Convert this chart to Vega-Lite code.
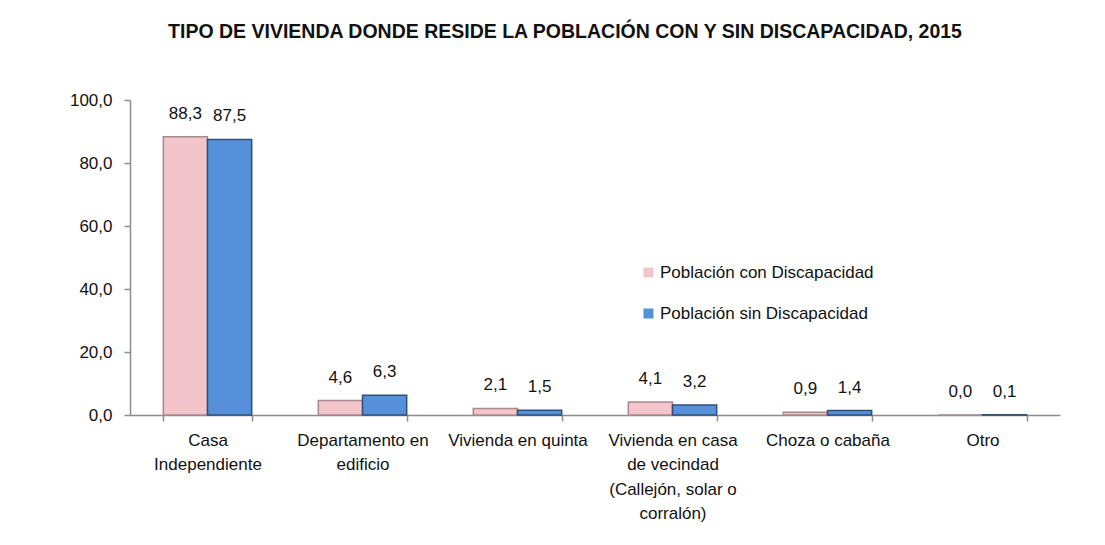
{
  "$schema": "https://vega.github.io/schema/vega-lite/v6.json",
  "width": 930,
  "height": 315,
  "autosize": {"type": "none"},
  "padding": {"left": 130, "top": 100, "right": 45, "bottom": 130},
  "title": {
    "text": "TIPO DE VIVIENDA DONDE RESIDE LA POBLACIÓN CON Y SIN DISCAPACIDAD, 2015",
    "font": "Liberation Sans, Arial, sans-serif",
    "fontSize": 19.5,
    "fontWeight": "bold",
    "color": "#111111",
    "anchor": "middle",
    "dx": -30,
    "offset": 49
  },
  "data": {
    "values": [
      {"tipo": "Casa Independiente", "grupo": "Población con Discapacidad", "valor": 88.3},
      {"tipo": "Casa Independiente", "grupo": "Población sin Discapacidad", "valor": 87.5},
      {"tipo": "Departamento en edificio", "grupo": "Población con Discapacidad", "valor": 4.6},
      {"tipo": "Departamento en edificio", "grupo": "Población sin Discapacidad", "valor": 6.3},
      {"tipo": "Vivienda en quinta", "grupo": "Población con Discapacidad", "valor": 2.1},
      {"tipo": "Vivienda en quinta", "grupo": "Población sin Discapacidad", "valor": 1.5},
      {"tipo": "Vivienda en casa de vecindad (Callejón, solar o corralón)", "grupo": "Población con Discapacidad", "valor": 4.1},
      {"tipo": "Vivienda en casa de vecindad (Callejón, solar o corralón)", "grupo": "Población sin Discapacidad", "valor": 3.2},
      {"tipo": "Choza o cabaña", "grupo": "Población con Discapacidad", "valor": 0.9},
      {"tipo": "Choza o cabaña", "grupo": "Población sin Discapacidad", "valor": 1.4},
      {"tipo": "Otro", "grupo": "Población con Discapacidad", "valor": 0.0},
      {"tipo": "Otro", "grupo": "Población sin Discapacidad", "valor": 0.1}
    ]
  },
  "encoding": {
    "x": {
      "field": "tipo",
      "type": "nominal",
      "sort": null,
      "scale": {"paddingInner": 0.43, "paddingOuter": 0.215},
      "axis": {
        "title": null,
        "labelAngle": 0,
        "tickBand": "extent",
        "domainColor": "#8c8c8c",
        "domainWidth": 1.5,
        "tickColor": "#8c8c8c",
        "tickWidth": 1.5,
        "tickSize": 6,
        "labelFont": "Liberation Sans, Arial, sans-serif",
        "labelFontSize": 17,
        "labelColor": "#111111",
        "labelPadding": 11,
        "labelBaseline": "top",
        "labelLineHeight": 24.5,
        "labelLimit": 200,
        "labelExpr": "datum.value == 'Casa Independiente' ? ['Casa', 'Independiente'] : datum.value == 'Departamento en edificio' ? ['Departamento en', 'edificio'] : datum.value == 'Vivienda en casa de vecindad (Callejón, solar o corralón)' ? ['Vivienda en casa', 'de vecindad', '(Callejón, solar o', 'corralón)'] : datum.value"
      }
    },
    "xOffset": {"field": "grupo", "type": "nominal", "sort": null, "scale": {"paddingInner": 0}},
    "y": {
      "field": "valor",
      "type": "quantitative",
      "scale": {"domain": [0, 100]},
      "axis": {
        "title": null,
        "values": [0, 20, 40, 60, 80, 100],
        "format": ".1f",
        "grid": false,
        "domainColor": "#8c8c8c",
        "domainWidth": 1.5,
        "tickColor": "#8c8c8c",
        "tickWidth": 1.5,
        "tickSize": 6,
        "labelFont": "Liberation Sans, Arial, sans-serif",
        "labelFontSize": 17,
        "labelColor": "#111111",
        "labelPadding": 12
      }
    }
  },
  "layer": [
    {
      "mark": {"type": "bar", "strokeWidth": 1.5},
      "encoding": {
        "color": {
          "field": "grupo",
          "type": "nominal",
          "sort": null,
          "scale": {"range": ["#f3c4c9", "#5590d8"]},
          "legend": {
            "title": null,
            "orient": "none",
            "legendX": 510,
            "legendY": 164,
            "symbolType": "square",
            "symbolSize": 100,
            "symbolStrokeWidth": 0,
            "labelFont": "Liberation Sans, Arial, sans-serif",
            "labelFontSize": 17,
            "labelColor": "#111111",
            "labelOffset": 3,
            "labelLimit": 400,
            "rowPadding": 23
          }
        },
        "stroke": {
          "field": "grupo",
          "type": "nominal",
          "sort": null,
          "scale": {"range": ["#a8898d", "#2f4f7a"]},
          "legend": null
        }
      }
    },
    {
      "mark": {
        "type": "text",
        "baseline": "bottom",
        "dy": -14,
        "font": "Liberation Sans, Arial, sans-serif",
        "fontSize": 17,
        "color": "#111111"
      },
      "encoding": {
        "text": {"field": "valor", "type": "quantitative", "format": ".1f"}
      }
    }
  ],
  "config": {
    "view": {"stroke": null},
    "locale": {
      "number": {"decimal": ",", "thousands": ".", "grouping": [3], "currency": ["", " €"]}
    }
  }
}
